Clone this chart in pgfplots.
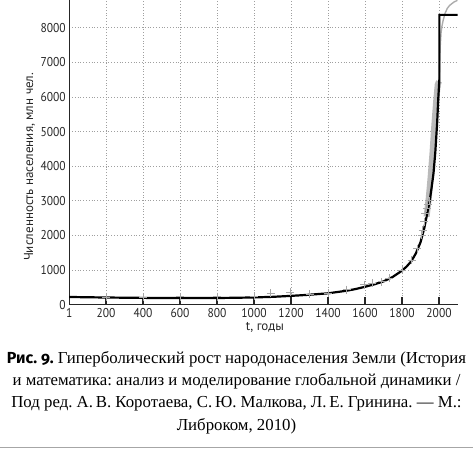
\documentclass[border=0pt]{standalone}
\usepackage{fontspec}
\usepackage{pgfplots}
\usepackage{pgfplotstable}
\pgfplotsset{compat=1.18}
\setmainfont{Liberation Serif}
\newfontfamily\axisfont[FakeStretch=0.9]{PT Sans}
\newfontfamily\labelfont{PT Sans}
\newfontfamily\capsans[Numbers=OldStyle]{Fira Sans}
\frenchspacing

% model curve (hyperbolic fit), mln
\pgfplotstableread{
t N
1 220
100 212
200 205
300 199
400 194
500 191
600 189
700 189
800 191
900 197
1000 207
1100 224
1200 252
1300 285
1400 326
1500 400
1550 450
1600 515
1650 585
1700 670
1750 800
1800 980
1825 1100
1850 1250
1875 1480
1900 1800
1920 2200
1935 2600
1950 3000
1960 3380
1970 3780
1980 4400
1990 5250
1996 5950
2002 6500
2002 8370
2100 8370
}\modeltable

% historical estimates
\pgfplotstableread{
t N
200 225
400 225
600 228
800 228
1000 240
1090 335
1195 350
1300 300
1400 335
1500 430
1595 575
1640 610
1690 660
1730 760
1800 990
1852 1290
1883 1620
1906 2000
1911 2155
1920 2400
1927 2650
1933 2780
1939 2900
1945 3000
}\datatable

% recent data band
\pgfplotstableread{
t N
1933 2540
1945 3100
1955 3700
1965 4400
1975 5200
1985 5900
1993 6350
2000 6450
}\bandtable

% projection
\pgfplotstableread{
t N
2002 6450
2004 7000
2007 7500
2011 7850
2016 8050
2023 8225
2033 8420
2045 8560
2057 8640
2068 8690
2082 8745
2100 8790
}\projtable

\begin{document}
\begin{tikzpicture}
\path[use as bounding box] (0,0) rectangle (473bp,449bp);
\begin{axis}[
  at={(69.2bp,144.4bp)}, anchor=south west,
  scale only axis, width=388.3bp, height=304.6bp,
  xmin=1, xmax=2100, ymin=0, ymax=8800,
  axis x line=bottom, axis y line=left,
  axis line style={-, black!85, line width=1.2bp},
  xtick={1,200,400,600,800,1000,1200,1400,1600,1800,2000},
  ytick={0,1000,2000,3000,4000,5000,6000,7000,8000},
  tick align=inside, major tick length=8bp,
  xtick style={black!85, line width=1.2bp},
  ytick style={draw=none},
  grid=major,
  major grid style={gray!75, line width=0.7bp, dash pattern=on 0.8bp off 2bp},
  /pgf/number format/assume math mode=true,
  /pgf/number format/set thousands separator={},
  tick label style={font=\axisfont\fontsize{12.8bp}{15bp}\selectfont, black!85},
  xlabel={t, годы},
  ylabel={Численность населения, млн чел.},
  label style={font=\labelfont\fontsize{13bp}{15bp}\selectfont, black!85},
  xlabel style={at={(axis description cs:0.504,-0.0735)}, anchor=center},
  ylabel style={at={(axis description cs:-0.102,0.452)}, anchor=center},
]
\addplot[gray!60, line width=6bp, opacity=0.9] table[x=t,y=N] {\bandtable};
\addplot[gray!65, line width=1.4bp] table[x=t,y=N] {\projtable};
\addplot[only marks, mark=+, mark size=4bp, gray!70, mark options={line width=0.6bp}] table[x=t,y=N] {\datatable};
\addplot[black, line width=2.2bp] table[x=t,y=N] {\modeltable};
\end{axis}
\node[anchor=base] at (236.5bp,85.7bp) {\fontsize{16.8bp}{20bp}\selectfont{\capsans\bfseries\fontsize{16bp}{20bp}\selectfont Рис. 9.} Гиперболический рост народонаселения Земли (История};
\node[anchor=base] at (236.5bp,63.5bp) {\fontsize{16.8bp}{20bp}\selectfont и математика: анализ и моделирование глобальной динамики /};
\node[anchor=base] at (236.5bp,41.3bp) {\fontsize{16.8bp}{20bp}\selectfont Под ред. А.\,В. Коротаева, С.\,Ю. Малкова, Л.\,Е. Гринина. — М.:};
\node[anchor=base] at (236.5bp,19bp) {\fontsize{16.8bp}{20bp}\selectfont Либроком, 2010)};
\draw[gray!70, line width=1.6bp] (0,1.6bp) -- (473bp,1.6bp);
\end{tikzpicture}
\end{document}
